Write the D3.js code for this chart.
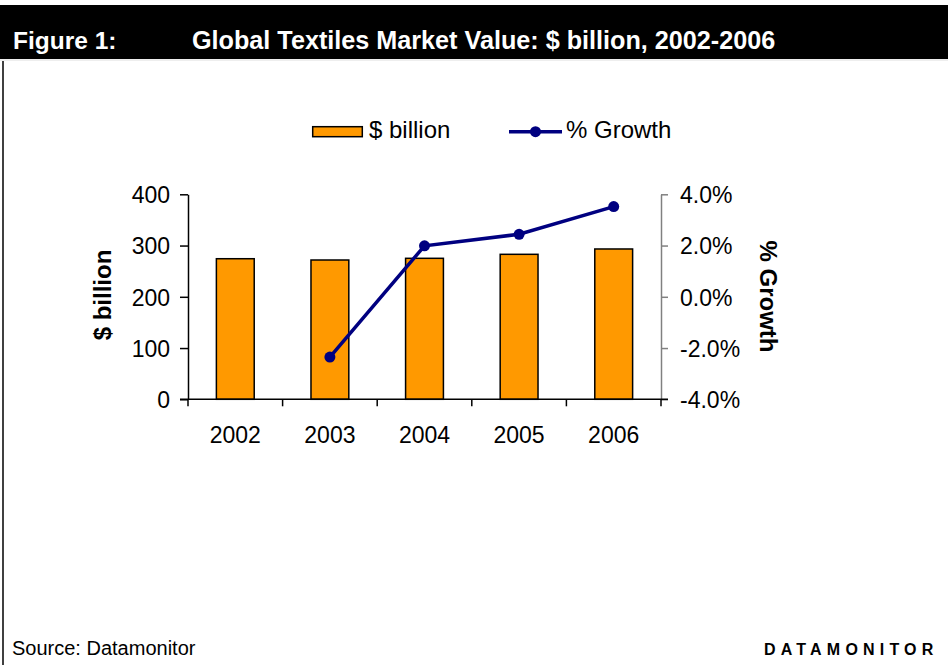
<!DOCTYPE html>
<html>
<head>
<meta charset="utf-8">
<script src="https://cdn.jsdelivr.net/npm/d3@7/dist/d3.min.js"></script>
<style>
  html, body { margin: 0; padding: 0; background: #fff; }
  svg { display: block; font-family: "Liberation Sans", Arial, sans-serif; }
</style>
</head>
<body>
<svg id="chart" width="948" height="665"></svg>
<script>
// Global textiles market, 2002-2006
const years = ["2002", "2003", "2004", "2005", "2006"];
const valueBillion = [274.3, 271.8, 275.1, 282.9, 293.3];
const growthPct = [null, -2.35, 1.99, 2.44, 3.52];
const leftTicks = [0, 100, 200, 300, 400];
const rightTicks = [-4, -2, 0, 2, 4];

const FONT = "Liberation Sans, Arial, sans-serif";
const svg = d3.select("#chart");

// header band
svg.append("rect").attr("x", 0).attr("y", 5).attr("width", 948).attr("height", 54).attr("fill", "#000");
svg.append("line").attr("x1", 0).attr("x2", 948).attr("y1", 60).attr("y2", 60)
  .attr("stroke", "#ddd").attr("stroke-width", 1);
svg.append("text").attr("x", 13).attr("y", 48.5).attr("fill", "#fff")
  .attr("font-size", 24.5).attr("font-weight", "bold").text("Figure 1:");
svg.append("text").attr("x", 192).attr("y", 48.5).attr("fill", "#fff")
  .attr("font-size", 25.2).attr("font-weight", "bold")
  .text("Global Textiles Market Value: $ billion, 2002-2006");

// left frame edge
svg.append("line").attr("x1", 3).attr("x2", 3).attr("y1", 61).attr("y2", 665)
  .attr("stroke", "#000").attr("stroke-width", 1.5);

// scales
const x = d3.scaleBand().domain(years).range([188, 661]).paddingInner(0.6).paddingOuter(0.3);
const yL = d3.scaleLinear().domain([0, 400]).range([399.3, 194.3]);
const yR = d3.scaleLinear().domain([-4, 4]).range([399.3, 194.3]);

// bars
svg.append("g").selectAll("rect").data(years).join("rect")
  .attr("x", d => x(d))
  .attr("width", x.bandwidth())
  .attr("y", (d, i) => yL(valueBillion[i]))
  .attr("height", (d, i) => yL(0) - yL(valueBillion[i]))
  .attr("fill", "#FF9900")
  .attr("stroke", "#000")
  .attr("stroke-width", 1.5);

// left axis
const gL = svg.append("g").attr("transform", "translate(188,0)")
  .call(d3.axisLeft(yL).tickValues(leftTicks).tickSize(8).tickPadding(10).tickSizeOuter(0));
gL.select(".domain").attr("stroke", "#000").attr("stroke-width", 1.5);
gL.selectAll(".tick line").attr("stroke", "#000").attr("stroke-width", 1.5);
gL.selectAll(".tick text").attr("font-size", 23).attr("fill", "#000")
  .attr("font-family", FONT).attr("dy", "0.36em");

// right axis
const gR = svg.append("g").attr("transform", "translate(661,0)")
  .call(d3.axisRight(yR).tickValues(rightTicks).tickSize(7).tickPadding(12).tickSizeOuter(0));
gR.select(".domain").attr("stroke", "#808080").attr("stroke-width", 1.5);
gR.selectAll(".tick line").attr("stroke", "#808080").attr("stroke-width", 1.5);
gR.selectAll(".tick text").attr("font-size", 23).attr("fill", "#000")
  .attr("font-family", FONT).attr("dy", "0.36em")
  .text(d => (d < 0 ? "-" : "") + d3.format(".1f")(Math.abs(d)) + "%");

// category axis
const gX = svg.append("g").attr("transform", "translate(0,399.3)");
gX.append("line").attr("x1", 180).attr("x2", 668).attr("y1", 0).attr("y2", 0)
  .attr("stroke", "#000").attr("stroke-width", 1.5);
const boundaries = years.map(d => x(d) - x.step() * x.paddingInner() / 2);
boundaries[0] = 188;
boundaries.push(661);
gX.selectAll("line.tk").data(boundaries).join("line").attr("class", "tk")
  .attr("x1", d => d).attr("x2", d => d).attr("y1", 0).attr("y2", 7)
  .attr("stroke", "#000").attr("stroke-width", 1.5);
gX.selectAll("text").data(years).join("text")
  .attr("x", d => x(d) + x.bandwidth() / 2)
  .attr("y", 44)
  .attr("text-anchor", "middle")
  .attr("font-size", 23)
  .text(d => d);

// growth line
const pts = years.map((d, i) => ({ year: d, g: growthPct[i] })).filter(p => p.g !== null);
const line = d3.line().x(p => x(p.year) + x.bandwidth() / 2).y(p => yR(p.g));
svg.append("path").datum(pts).attr("d", line)
  .attr("fill", "none").attr("stroke", "#000080").attr("stroke-width", 3.5);
svg.append("g").selectAll("circle").data(pts).join("circle")
  .attr("cx", p => x(p.year) + x.bandwidth() / 2)
  .attr("cy", p => yR(p.g))
  .attr("r", 5.5)
  .attr("fill", "#000080");

// axis titles
svg.append("text").attr("transform", "translate(111,295) rotate(-90)")
  .attr("text-anchor", "middle").attr("font-size", 24).attr("font-weight", "bold")
  .text("$ billion");
svg.append("text").attr("transform", "translate(760,296.5) rotate(90)")
  .attr("text-anchor", "middle").attr("font-size", 24).attr("font-weight", "bold")
  .text("% Growth");

// legend
const lg = svg.append("g");
lg.append("rect").attr("x", 312.7).attr("y", 126.7).attr("width", 49.6).attr("height", 10)
  .attr("fill", "#FF9900").attr("stroke", "#000").attr("stroke-width", 1.5);
lg.append("text").attr("x", 369).attr("y", 138).attr("font-size", 24).text("$ billion");
lg.append("line").attr("x1", 509).attr("x2", 562).attr("y1", 131.7).attr("y2", 131.7)
  .attr("stroke", "#000080").attr("stroke-width", 3.5);
lg.append("circle").attr("cx", 535.5).attr("cy", 131.7).attr("r", 5.5).attr("fill", "#000080");
lg.append("text").attr("x", 566).attr("y", 138).attr("font-size", 24).text("% Growth");

// footer
svg.append("text").attr("x", 12).attr("y", 655).attr("font-size", 20).text("Source: Datamonitor");
svg.append("text").attr("x", 764).attr("y", 655).attr("font-size", 16).attr("font-weight", "bold")
  .attr("letter-spacing", 5.2).text("DATAMONITOR");
</script>
</body>
</html>
